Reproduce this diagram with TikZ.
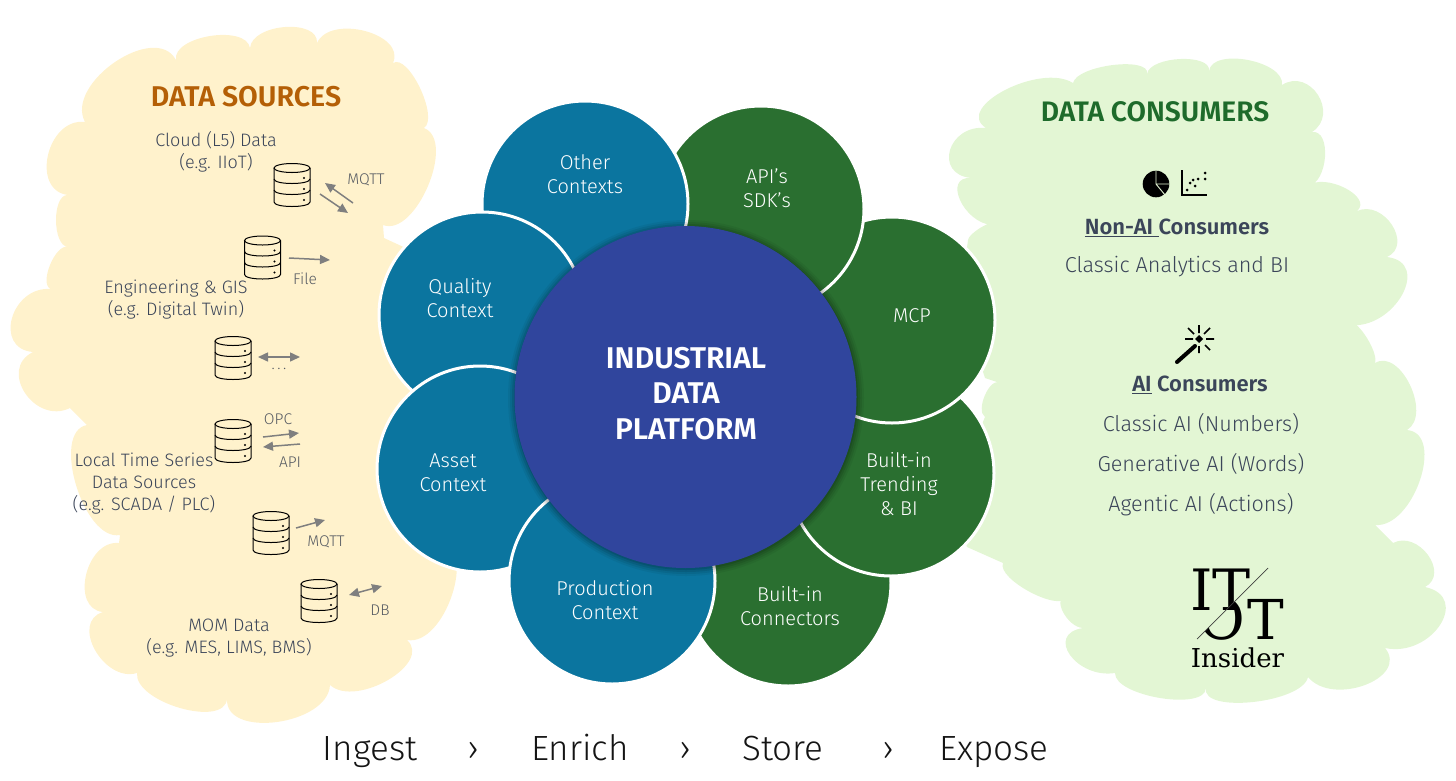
\documentclass[tikz,border=0pt]{standalone}
\usepackage{fontspec}
\usetikzlibrary{arrows.meta}
\setmainfont{Fira Sans}
\newfontfamily\lightf{Fira Sans Light}
\newfontfamily\boldf{Fira Sans SemiBold}
\newfontfamily\slabf{DejaVu Serif}
\definecolor{creamc}{HTML}{FFF2CC}
\definecolor{mintc}{HTML}{E3F6D4}
\definecolor{bluec}{HTML}{0B759F}
\definecolor{greenc}{HTML}{2A6F30}
\definecolor{corec}{HTML}{30459D}
\definecolor{slatec}{HTML}{3B4559}
\definecolor{orangec}{HTML}{B45F06}
\definecolor{titlegc}{HTML}{1E6B2B}
\definecolor{arrowc}{HTML}{7F7F7F}
\definecolor{tagc}{HTML}{555A62}
% symmetric bump through peak #3,#4 from #1,#2 to #5,#6
\def\bmp(#1,#2)(#3,#4)(#5,#6){ .. controls ({#1+1.333*(#3-(#1+#5)/2)},{#2+1.333*(#4-(#2+#6)/2)}) and ({#5+1.333*(#3-(#1+#5)/2)},{#6+1.333*(#4-(#2+#6)/2)}) .. (#5,#6)}
\tikzset{
  petal/.style={circle,minimum size=206pt,inner sep=0pt,fill=#1,draw=white,line width=3pt},
  ptext/.style={text=white,align=center,font=\lightf\fontsize{20}{24}\selectfont},
  dtext/.style={text=slatec,align=center,font=\lightf\fontsize{18}{22}\selectfont},
  ctext/.style={text=slatec,align=center,font=\lightf\fontsize{21.6}{24}\selectfont},
  cbold/.style={text=slatec,align=center,font=\boldf\fontsize{22}{24}\selectfont},
  tag/.style={text=tagc,font=\lightf\fontsize{15.5}{17}\selectfont},
  flow/.style={text=black!92,anchor=base,font=\lightf\fontsize{35}{40}\selectfont},
  gflow/.style={draw=arrowc,line width=1.5pt,-{Triangle[length=10pt,width=9pt]}},
  gflowb/.style={draw=arrowc,line width=1.5pt,{Triangle[length=10pt,width=9pt]}-{Triangle[length=10pt,width=9pt]}},
  dbicon/.pic={
    \draw[line width=1pt] (0,-17) circle[x radius=18,y radius=4.5];
    \draw[line width=1pt] (-18,-17) -- (-18,17) .. controls (-18,23) and (18,23) .. (18,17) -- (18,-17);
    \draw[line width=1pt] (-18,-6) .. controls (-18,0) and (18,0) .. (18,-6);
    \draw[line width=1pt] (-18,5) .. controls (-18,11) and (18,11) .. (18,5);
    \foreach \yy in {-7,4,15} \fill (12,\yy) circle[radius=1.2];
  }
}
\begin{document}
\begin{tikzpicture}[x=1pt,y=-1pt]
\useasboundingbox (0,0) rectangle (1456,780);
% source cloud
\fill[creamc] (85,122)
 \bmp(85,122)(115,62)(176,60)
 \bmp(176,60)(210,36)(250,48)
 \bmp(250,48)(285,27)(317,43)
 \bmp(317,43)(365,31)(393,63)
 \bmp(393,63)(420,88)(424,128)
 \bmp(424,128)(428,186)(383,225)
 -- (384,238) -- (410,250) -- (500,400) -- (440,540)
 \bmp(440,540)(452,595)(407,640)
 \bmp(407,640)(388,680)(330,685)
 \bmp(330,685)(277,722)(227,699)
 \bmp(227,699)(180,708)(137,673)
 \bmp(137,673)(95,650)(103,612)
 \bmp(103,612)(86,575)(119,543)
 -- (120,535)
 \bmp(120,535)(76,485)(87,425)
 -- (70,408)
 \bmp(70,408)(25,393)(33,352)
 \bmp(33,352)(12,318)(51,289)
 \bmp(51,289)(50,265)(68,247)
 \bmp(68,247)(56,220)(68,195)
 \bmp(68,195)(48,155)(85,122)
 -- cycle;
% consumer cloud
\fill[mintc] (986,128)
 \bmp(986,128)(1005,90)(1073,83)
 \bmp(1073,83)(1113,65)(1147,74)
 \bmp(1147,74)(1180,59)(1209,71)
 \bmp(1209,71)(1248,60)(1282,85)
 \bmp(1282,85)(1318,95)(1312,132)
 \bmp(1312,132)(1325,157)(1308,186)
 \bmp(1308,186)(1345,188)(1357,211)
 \bmp(1357,211)(1392,225)(1387,257)
 \bmp(1387,257)(1402,295)(1349,325)
 \bmp(1349,325)(1365,335)(1375,363)
 \bmp(1375,363)(1410,385)(1407,430)
 \bmp(1407,430)(1420,480)(1375,525)
 -- (1393,543)
 \bmp(1393,543)(1428,555)(1425,587)
 \bmp(1425,587)(1440,625)(1385,648)
 \bmp(1385,648)(1365,685)(1308,677)
 \bmp(1308,677)(1253,702)(1206,688)
 \bmp(1206,688)(1160,698)(1115,673)
 \bmp(1115,673)(1070,655)(1083,628)
 \bmp(1083,628)(1063,612)(1067,597)
 \bmp(1067,597)(1030,592)(1003,563)
 -- (967,547) -- (950,500) -- (985,417)
 \bmp(985,417)(985,395)(1000,383)
 -- (985,378) -- (960,300) -- (968,240)
 \bmp(968,240)(980,228)(992,225)
 \bmp(992,225)(960,200)(971,178)
 \bmp(971,178)(950,150)(986,128)
 -- cycle;
% petals, stacked as in the reference
\node[petal=greenc] (conn) at (788,583) {};
\node[petal=greenc] (trend) at (891,473) {};
\node[petal=greenc] (mcp) at (892,320) {};
\node[petal=greenc] (api) at (761,209) {};
\node[petal=bluec] (other) at (585,204) {};
\node[petal=bluec] (qual) at (482,315) {};
\node[petal=bluec] (asset) at (480,469) {};
\node[petal=bluec] (prod) at (612,581) {};
% core shadow + core
\foreach \rr/\oo in {178/.05,176/.07,174/.09,172/.11}
  \fill[black,opacity=\oo] (686,398) circle[radius=\rr];
\node[circle,minimum size=342pt,inner sep=0pt,fill=corec] (core) at (685.5,397) {};
\node[text=white,align=center,font=\boldf\fontsize{30}{35.5}\selectfont] (coret) at (686,393.5) {INDUSTRIAL\\DATA\\PLATFORM};
% petal labels
\node[ptext] (t1) at (585,174) {Other\\Contexts};
\node[ptext] (t2) at (767,188) {API’s\\SDK’s};
\node[ptext] (t3) at (912,316) {MCP};
\node[ptext] (t4) at (899,484) {Built-in\\Trending\\\& BI};
\node[ptext] (t5) at (790,606) {Built-in\\Connectors};
\node[ptext] (t6) at (605,600) {Production\\Context};
\node[ptext] (t7) at (453,473) {Asset\\Context};
\node[ptext] (t8) at (460,298) {Quality\\Context};
% source side
\node[text=orangec,font=\boldf\fontsize{28.6}{32}\selectfont] (st) at (246,97) {DATA SOURCES};
\node[dtext] (s1) at (216,152) {Cloud (L5) Data\\(e.g. IIoT)};
\node[dtext] (s2) at (176,300) {Engineering \& GIS\\(e.g. Digital Twin)};
\node[dtext] (s3) at (144,483.5) {Local Time Series\\Data Sources\\(e.g. SCADA / PLC)};
\node[dtext] (s4) at (229,638) {MOM Data\\(e.g. MES, LIMS, BMS)};
\pic at (292,185) {dbicon};
\pic at (262.5,257.5) {dbicon};
\pic at (233,358) {dbicon};
\pic at (233,441) {dbicon};
\pic at (271,533) {dbicon};
\pic at (319,601) {dbicon};
\node[tag] (l1) at (366,180) {MQTT};
\node[tag] (l2) at (305,279) {File};
\node[tag] (l3) at (279,369) {.\,.\,.};
\node[tag] (l4) at (278,419) {OPC};
\node[tag] (l5) at (290,462) {API};
\node[tag] (l6) at (326,542) {MQTT};
\node[tag] (l7) at (380,610) {DB};
\coordinate (a1s) at (353,203); \coordinate (a1e) at (325,183);
\coordinate (a2s) at (320,194); \coordinate (a2e) at (348,213);
\coordinate (a3s) at (289,258); \coordinate (a3e) at (330,260);
\coordinate (a4s) at (258,357); \coordinate (a4e) at (300,357);
\coordinate (a5s) at (263,437); \coordinate (a5e) at (299,433);
\coordinate (a6s) at (300,444); \coordinate (a6e) at (263,447);
\coordinate (a7s) at (296,528); \coordinate (a7e) at (325,520);
\coordinate (a8s) at (349,595); \coordinate (a8e) at (382,586);
\draw[gflow] (a1s) -- (a1e);
\draw[gflow] (a2s) -- (a2e);
\draw[gflow] (a3s) -- (a3e);
\draw[gflowb] (a4s) -- (a4e);
\draw[gflow] (a5s) -- (a5e);
\draw[gflow] (a6s) -- (a6e);
\draw[gflow] (a7s) -- (a7e);
\draw[gflowb] (a8s) -- (a8e);
% consumer side
\node[text=titlegc,font=\boldf\fontsize{28.2}{32}\selectfont] (ct) at (1155,112) {DATA CONSUMERS};
\node[cbold] (c1) at (1177,228) {\underline{Non-AI\ }Consumers};
\node[ctext] (c2) at (1177,267) {Classic Analytics and BI};
\node[cbold] (c3) at (1200,385) {\underline{AI}\ Consumers};
\node[ctext] (c4) at (1201,423.5) {Classic AI (Numbers)};
\node[ctext] (c5) at (1201,463.5) {Generative AI (Words)};
\node[ctext] (c6) at (1201,504.5) {Agentic AI (Actions)};
% pie icon
\fill[black] (1156,184) circle[radius=13.3];
\draw[mintc,line width=.9pt] (1156,171) -- (1156,184) -- (1170,184) (1156,184) -- (1165,195);
% scatter icon
\draw[black,line width=1.3pt] (1182,170) -- (1182,195) -- (1207,195);
\fill (1187,190) circle[radius=1.5] (1190,183) circle[radius=1.5] (1195,186) circle[radius=1.5] (1193,180) circle[radius=1.5] (1198,179) circle[radius=1.5] (1205,173) circle[radius=1.5] (1205,179) circle[radius=1.5];
% wand icon
\draw[black,line width=4pt,line cap=round] (1177,362) -- (1195,346);
\fill[black] (1199,335) -- (1203,339) -- (1199,343) -- (1195,339) -- cycle;
\draw[black,line width=1.7pt] (1199,325) -- (1199,333) (1199,346) -- (1199,353) (1185,339) -- (1193,339) (1206,339) -- (1214,339) (1188,328) -- (1194,334) (1210,328) -- (1204,334) (1205,345) -- (1210,350);
% logo
\node[anchor=base west,inner sep=0pt,font=\slabf\fontsize{57}{57}\selectfont] (logoit) at (1190,610) {IT};
\begin{scope}
\clip (1268,568) -- (1197,639) -- (1197,650) -- (1248,650) -- (1248,568) -- cycle;
\node[anchor=base west,inner sep=0pt,font=\slabf\fontsize{57}{57}\selectfont] (logoo) at (1198,639) {O};
\end{scope}
\node[anchor=base west,inner sep=0pt,font=\slabf\fontsize{55}{55}\selectfont] (logot) at (1247,639) {T};
\draw[black!75,line width=.7pt] (1268,568) -- (1197,639);
\node[anchor=base,inner sep=0pt,font=\slabf\fontsize{26}{26}\selectfont] (logoi) at (1237.5,667) {Insider};
% bottom flow
\node[flow] (f1) at (370,760) {Ingest};
\node[flow] (f2) at (473,760) {›};
\node[flow] (f3) at (580,760) {Enrich};
\node[flow] (f4) at (685,760) {›};
\node[flow] (f5) at (783,760) {Store};
\node[flow] (f6) at (888,760) {›};
\node[flow] (f7) at (994,760) {Expose};
\end{tikzpicture}
\end{document}
